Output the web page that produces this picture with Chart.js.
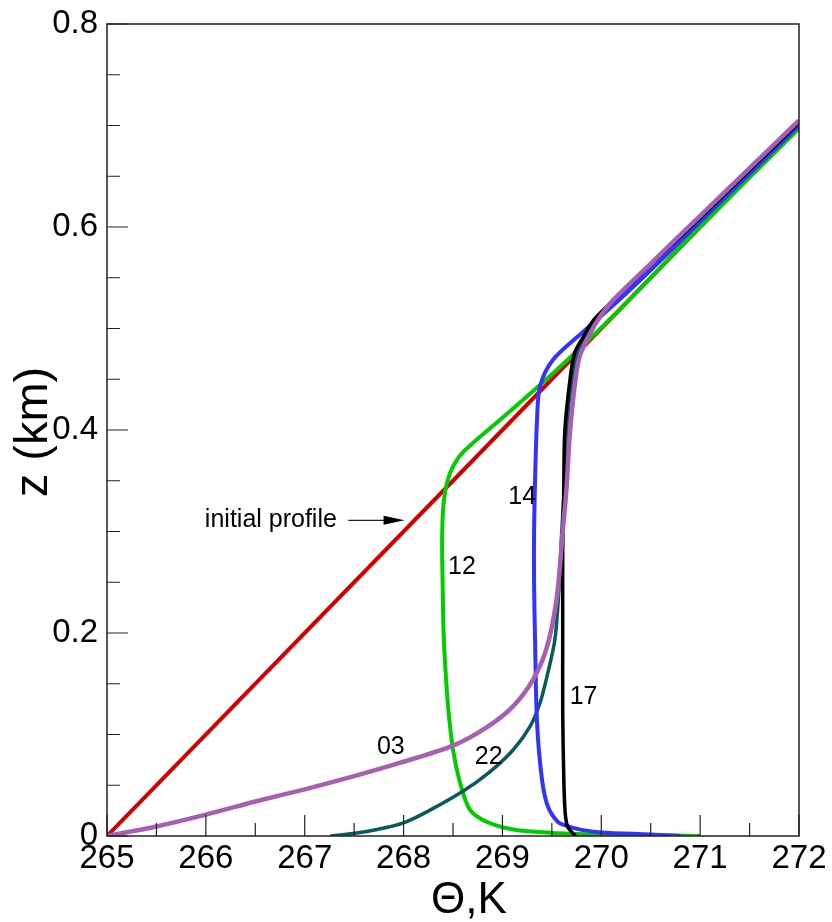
<!DOCTYPE html>
<html>
<head>
<meta charset="utf-8">
<title>Theta profiles</title>
<script src="https://cdn.jsdelivr.net/npm/chart.js@4/dist/chart.umd.min.js"></script>
<style>
  html, body { margin: 0; padding: 0; background: #fff; }
  #wrap { width: 832px; height: 922px; }
</style>
</head>
<body>
<div id="wrap"><canvas id="chartTheta" width="832" height="922"></canvas></div>
<script>
// axis ticks
var xTickValues = [265, 266, 267, 268, 269, 270, 271, 272];
var xTickLabels = ['265', '266', '267', '268', '269', '270', '271', '272'];
var xMinorTicks = [265.5, 266.5, 267.5, 268.5, 269.5, 270.5, 271.5];
var yTickValues = [0, 0.2, 0.4, 0.6, 0.8];
var yTickLabels = ['0', '0.2', '0.4', '0.6', '0.8'];
var yMinorTicks = [0.05, 0.1, 0.15, 0.25, 0.3, 0.35, 0.45, 0.5, 0.55, 0.65, 0.7, 0.75];

// initial profile
var thetaInit = [265, 272];
var zInit = [0, 0.7];

// hour 03
var theta03 = [265.0, 265.5, 266.0, 266.5, 267.0, 267.5, 267.96, 268.5, 268.84, 269.11, 269.31, 269.45, 269.55, 269.61, 269.65, 269.68, 269.73, 269.78, 269.87, 269.99, 270.12, 270.5, 271.0, 272.0];
var z03 = [0.0, 0.0094, 0.021, 0.034, 0.046, 0.059, 0.072, 0.089, 0.107, 0.128, 0.154, 0.186, 0.235, 0.3, 0.345, 0.394, 0.443, 0.472, 0.492, 0.512, 0.528, 0.564, 0.611, 0.705];

// hour 12
var theta12 = [271.0, 270.5, 270.0, 269.51, 269.11, 268.84, 268.67, 268.57, 268.5, 268.45, 268.42, 268.405, 268.395, 268.39, 268.4, 268.43, 268.49, 268.6, 269.0, 269.4, 269.8, 270.3, 271.0, 272.0];
var z12 = [0.0, 0.0008, 0.0015, 0.003, 0.0064, 0.014, 0.026, 0.053, 0.085, 0.128, 0.17, 0.2, 0.25, 0.29, 0.322, 0.344, 0.362, 0.378, 0.412, 0.446, 0.482, 0.53, 0.6, 0.697];

// hour 14
var theta14 = [270.8, 270.5, 270.0, 269.8, 269.65, 269.56, 269.46, 269.4, 269.35, 269.33, 269.32, 269.32, 269.33, 269.35, 269.38, 269.51, 269.82, 270.19, 270.59, 271.0, 272.0];
var z14 = [0.0, 0.0015, 0.0035, 0.006, 0.01, 0.014, 0.029, 0.056, 0.112, 0.193, 0.25, 0.3, 0.35, 0.41, 0.443, 0.469, 0.497, 0.529, 0.566, 0.605, 0.7];

// hour 17
var theta17 = [269.74, 269.7, 269.66, 269.64, 269.63, 269.62, 269.61, 269.61, 269.61, 269.62, 269.63, 269.68, 269.73, 269.82, 269.92, 270.06, 270.5, 271.0, 272.0];
var z17 = [0.0, 0.004, 0.009, 0.018, 0.03, 0.06, 0.12, 0.2, 0.28, 0.34, 0.397, 0.447, 0.476, 0.492, 0.508, 0.522, 0.563, 0.609, 0.703];

// hour 22
var theta22 = [267.26, 267.49, 267.73, 268.0, 268.24, 268.6, 268.87, 269.11, 269.28, 269.38, 269.46, 269.53, 269.57, 269.6, 269.63, 269.65, 269.7, 269.76, 269.85, 269.97, 270.1, 271.0, 272.0];
var z22 = [0.0, 0.0025, 0.0064, 0.013, 0.024, 0.044, 0.063, 0.085, 0.108, 0.131, 0.161, 0.193, 0.24, 0.3, 0.35, 0.4, 0.447, 0.475, 0.493, 0.511, 0.525, 0.61, 0.704];

// curve labels: text, theta, z (left edge, vertical middle)
var curveLabels = [
  ['initial profile', 265.99, 0.311],
  ['12', 268.45, 0.265],
  ['14', 269.06, 0.334],
  ['17', 269.68, 0.137],
  ['03', 267.73, 0.088],
  ['22', 268.72, 0.078]
];
var arrowFrom = [267.44, 0.311];
var arrowTo = [268.01, 0.311];

var fontFam = "'Liberation Sans', Arial, sans-serif";

function puntos(xs, ys) {
  return xs.map(function(x, i) { return { x: x, y: ys[i] }; });
}

function serie(xs, ys, color, ancho) {
  return {
    data: puntos(xs, ys),
    borderColor: color,
    borderWidth: ancho,
    pointRadius: 0,
    tension: 0.3,
    fill: false
  };
}

// frame, inward ticks, axis titles and curve labels
var extras = {
  id: 'extras',
  afterDraw: function(chart) {
    var ctx = chart.ctx;
    var a = chart.chartArea;
    var sx = chart.scales.x, sy = chart.scales.y;
    ctx.save();

    ctx.strokeStyle = '#222';
    ctx.lineWidth = 1.5;
    ctx.strokeRect(a.left, a.top, a.right - a.left, a.bottom - a.top);

    ctx.lineWidth = 1.2;
    ctx.beginPath();
    xTickValues.forEach(function(v) {
      var px = sx.getPixelForValue(v);
      ctx.moveTo(px, a.bottom); ctx.lineTo(px, a.bottom - 21);
    });
    xMinorTicks.forEach(function(v) {
      var px = sx.getPixelForValue(v);
      ctx.moveTo(px, a.bottom); ctx.lineTo(px, a.bottom - 13);
    });
    yTickValues.forEach(function(v) {
      var py = sy.getPixelForValue(v);
      ctx.moveTo(a.left, py); ctx.lineTo(a.left + 21, py);
    });
    yMinorTicks.forEach(function(v) {
      var py = sy.getPixelForValue(v);
      ctx.moveTo(a.left, py); ctx.lineTo(a.left + 13, py);
    });
    ctx.stroke();

    // axis titles
    ctx.fillStyle = '#000';
    ctx.textAlign = 'center';
    ctx.textBaseline = 'alphabetic';
    ctx.font = '44px ' + fontFam;
    ctx.fillText('\u0398,K', (a.left + a.right) / 2 + 16, 913);
    ctx.save();
    ctx.translate(34, (a.top + a.bottom) / 2 + 2);
    ctx.rotate(-Math.PI / 2);
    ctx.textBaseline = 'middle';
    ctx.font = '47px ' + fontFam;
    ctx.fillText('z (km)', 0, 0);
    ctx.restore();

    // curve labels
    ctx.font = '25px ' + fontFam;
    ctx.textAlign = 'left';
    ctx.textBaseline = 'middle';
    curveLabels.forEach(function(l) {
      ctx.fillText(l[0], sx.getPixelForValue(l[1]), sy.getPixelForValue(l[2]));
    });

    // arrow to the initial profile
    var x0 = sx.getPixelForValue(arrowFrom[0]), y0 = sy.getPixelForValue(arrowFrom[1]);
    var x1 = sx.getPixelForValue(arrowTo[0]), y1 = sy.getPixelForValue(arrowTo[1]);
    ctx.lineWidth = 1.3;
    ctx.beginPath(); ctx.moveTo(x0, y0); ctx.lineTo(x1 - 14, y1); ctx.stroke();
    ctx.beginPath();
    ctx.moveTo(x1, y1); ctx.lineTo(x1 - 21, y1 - 4.5); ctx.lineTo(x1 - 21, y1 + 4.5);
    ctx.closePath(); ctx.fill();

    ctx.restore();
  }
};

new Chart(document.getElementById('chartTheta'), {
  type: 'line',
  data: {
    datasets: [
      serie(theta03, z03, '#a65fb3', 4.5),
      serie(theta17, z17, '#000000', 3.5),
      serie(theta14, z14, '#3333ff', 4),
      serie(theta22, z22, '#065c5c', 3.5),
      serie(theta12, z12, '#00cc00', 4),
      serie(thetaInit, zInit, '#d40000', 4)
    ]
  },
  options: {
    responsive: false,
    animation: false,
    layout: { padding: { top: 24, right: 33, left: 0, bottom: 0 } },
    plugins: { legend: { display: false }, tooltip: { enabled: false } },
    scales: {
      x: {
        type: 'linear', min: 265, max: 272,
        grid: { display: false, drawTicks: false }, border: { display: false },
        afterBuildTicks: function(s) { s.ticks = xTickValues.map(function(v) { return { value: v }; }); },
        ticks: {
          color: '#000', padding: 3, maxRotation: 0, autoSkip: false,
          font: { size: 33, family: fontFam },
          callback: function(v, i) { return xTickLabels[i]; }
        },
        afterFit: function(s) { s.height = 86; s.paddingLeft = 0; s.paddingRight = 0; }
      },
      y: {
        type: 'linear', min: 0, max: 0.8,
        grid: { display: false, drawTicks: false }, border: { display: false },
        afterBuildTicks: function(s) { s.ticks = yTickValues.map(function(v) { return { value: v }; }); },
        ticks: {
          color: '#000', padding: 9, autoSkip: false,
          font: { size: 33, family: fontFam },
          callback: function(v, i) { return yTickLabels[i]; }
        },
        afterFit: function(s) { s.width = 107; s.paddingTop = 0; s.paddingBottom = 0; }
      }
    }
  },
  plugins: [extras]
});
</script>
</body>
</html>
